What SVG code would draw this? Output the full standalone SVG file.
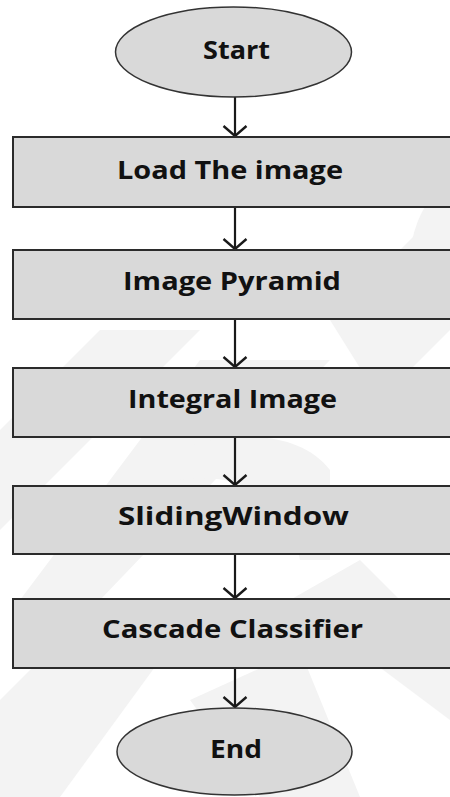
<svg xmlns="http://www.w3.org/2000/svg" width="450" height="797" viewBox="0 0 450 797">
  <defs>
    <style>
      .box { fill: #d9d9d9; stroke: #2b2b2b; stroke-width: 2; }
      .term { fill: #d9d9d9; stroke: #333333; stroke-width: 1.5; }
      .label { font-family: "Open Sans", "Liberation Sans", sans-serif; font-weight: bold; font-size: 25px; fill: #111111; text-anchor: middle; }
      .wire { stroke: #1a1a1a; stroke-width: 2.2; fill: none; }
      .wm { fill: #f3f3f3; }
    </style>
    <!-- open V head, drawn pointing along +x so orient="auto" turns it with the line -->
    <marker id="head" viewBox="0 0 12 26" refX="11" refY="13" markerWidth="12" markerHeight="26" markerUnits="userSpaceOnUse" orient="auto">
      <path d="M1 1.5 L11 13 L1 24.5" fill="none" stroke="#1a1a1a" stroke-width="2.4"/>
    </marker>
  </defs>

  <rect width="450" height="797" fill="#ffffff"/>

  <!-- faint background pattern -->
  <g id="backdrop">
    <polygon class="wm" points="100,330 200,330 0,530 0,430"/>
    <polygon class="wm" points="200,360 330,360 100,600 20,600"/>
    <polygon class="wm" points="330,320 450,200 450,330 380,400"/>
    <polygon class="wm" points="290,600 360,560 450,650 450,720"/>
    <polygon class="wm" points="0,700 60,640 160,660 60,797 0,797"/>
    <polygon class="wm" points="190,700 300,650 360,797 260,797"/>
    <path class="wm" d="M450,180 C420,200 405,240 410,290 L450,290 Z"/>
    <path class="wm" d="M180,450 C230,430 300,430 330,470 L330,560 L300,560 C290,500 240,470 180,480 Z"/>
  </g>

  <!-- connectors -->
  <g id="connectors">
    <line class="wire" x1="235" y1="97" x2="235" y2="136" marker-end="url(#head)"/>
    <line class="wire" x1="235" y1="207" x2="235" y2="249" marker-end="url(#head)"/>
    <line class="wire" x1="235" y1="319" x2="235" y2="367" marker-end="url(#head)"/>
    <line class="wire" x1="235" y1="437" x2="235" y2="485" marker-end="url(#head)"/>
    <line class="wire" x1="235" y1="554" x2="235" y2="598" marker-end="url(#head)"/>
    <line class="wire" x1="235" y1="668" x2="235" y2="707" marker-end="url(#head)"/>
  </g>

  <g id="start">
    <ellipse class="term" cx="233.5" cy="52" rx="118" ry="45"/>
    <text class="label" x="236.5" y="59" textLength="67" lengthAdjust="spacingAndGlyphs">Start</text>
  </g>

  <g id="load-image">
    <rect class="box" x="13" y="137" width="450" height="70"/>
    <text class="label" x="230" y="179" textLength="226" lengthAdjust="spacingAndGlyphs">Load The image</text>
  </g>

  <g id="image-pyramid">
    <rect class="box" x="13" y="250" width="450" height="69"/>
    <text class="label" x="232" y="290" textLength="218" lengthAdjust="spacingAndGlyphs">Image Pyramid</text>
  </g>

  <g id="integral-image">
    <rect class="box" x="13" y="368" width="450" height="69"/>
    <text class="label" x="232.5" y="408" textLength="209" lengthAdjust="spacingAndGlyphs">Integral Image</text>
  </g>

  <g id="sliding-window">
    <rect class="box" x="13" y="486" width="450" height="68"/>
    <text class="label" x="233.5" y="525" textLength="231" lengthAdjust="spacingAndGlyphs">SlidingWindow</text>
  </g>

  <g id="cascade-classifier">
    <rect class="box" x="13" y="599" width="450" height="69"/>
    <text class="label" x="232.5" y="638" textLength="261" lengthAdjust="spacingAndGlyphs">Cascade Classifier</text>
  </g>

  <g id="end">
    <ellipse class="term" cx="234.5" cy="751.5" rx="117.5" ry="43.5"/>
    <text class="label" x="236" y="758" textLength="52" lengthAdjust="spacingAndGlyphs">End</text>
  </g>
</svg>
